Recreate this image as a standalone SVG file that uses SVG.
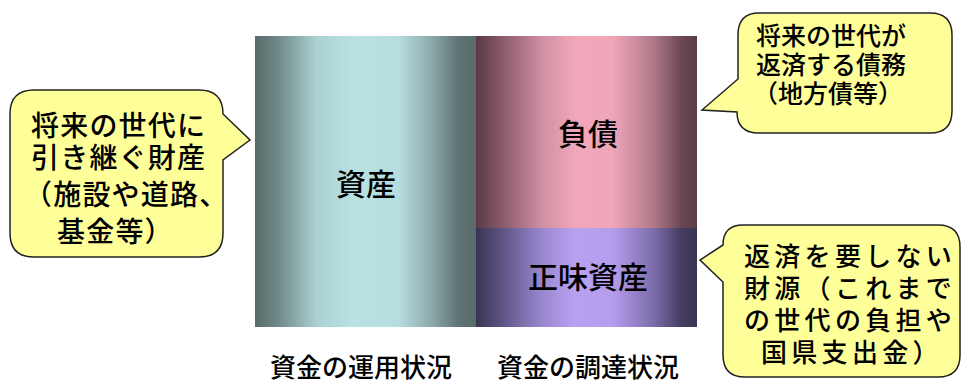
<svg xmlns="http://www.w3.org/2000/svg" width="963" height="385" viewBox="0 0 963 385">
  <style>
    text { font-family: "Liberation Sans", "Noto Sans CJK JP", sans-serif; fill: #000; font-weight: 500; }
    .big { font-size: 30px; text-anchor: middle; }
    .axis { font-size: 26px; text-anchor: middle; }
    .callout { fill: #ffff99; stroke: #222; stroke-width: 1.5; }
    .lc { font-size: 28px; letter-spacing: 1.2px; }
    .tr { font-size: 25px; }
    .br { font-size: 26px; letter-spacing: 4.3px; }
  </style>
  <defs>
    <linearGradient id="gTeal" x1="0" y1="0" x2="1" y2="0">
      <stop offset="0" stop-color="#586b6a"/>
      <stop offset="0.1" stop-color="#6f8787"/>
      <stop offset="0.28" stop-color="#abd2d3"/>
      <stop offset="0.45" stop-color="#bae2e2"/>
      <stop offset="0.65" stop-color="#b6dddf"/>
      <stop offset="0.8" stop-color="#8ca9aa"/>
      <stop offset="0.92" stop-color="#5f7474"/>
      <stop offset="1" stop-color="#5a6b6b"/>
    </linearGradient>
    <linearGradient id="gPink" x1="0" y1="0" x2="1" y2="0">
      <stop offset="0" stop-color="#5a3a46"/>
      <stop offset="0.12" stop-color="#8a5a6a"/>
      <stop offset="0.3" stop-color="#d190a3"/>
      <stop offset="0.45" stop-color="#f1a7b9"/>
      <stop offset="0.62" stop-color="#eea6b8"/>
      <stop offset="0.8" stop-color="#b27a8a"/>
      <stop offset="0.93" stop-color="#6c4654"/>
      <stop offset="1" stop-color="#5c3c48"/>
    </linearGradient>
    <linearGradient id="gPurple" x1="0" y1="0" x2="1" y2="0">
      <stop offset="0" stop-color="#3a3452"/>
      <stop offset="0.12" stop-color="#5e5484"/>
      <stop offset="0.3" stop-color="#9a88cf"/>
      <stop offset="0.45" stop-color="#b9a1f2"/>
      <stop offset="0.62" stop-color="#b59ded"/>
      <stop offset="0.8" stop-color="#7e6eab"/>
      <stop offset="0.93" stop-color="#453d62"/>
      <stop offset="1" stop-color="#3b3452"/>
    </linearGradient>
  </defs>

  <rect width="963" height="385" fill="#ffffff"/>

  <g id="assets">
    <rect x="255" y="36" width="221" height="291" fill="url(#gTeal)"/>
    <text class="big" x="366" y="195">資産</text>
  </g>

  <g id="liabilities">
    <rect x="476" y="36" width="221" height="192" fill="url(#gPink)"/>
    <text class="big" x="588" y="145">負債</text>
  </g>

  <g id="net-assets">
    <rect x="476" y="228" width="221" height="99" fill="url(#gPurple)"/>
    <text class="big" x="588" y="288">正味資産</text>
  </g>

  <g id="label-use">
    <text class="axis" x="361" y="377">資金の運用状況</text>
  </g>
  <g id="label-source">
    <text class="axis" x="588" y="377">資金の調達状況</text>
  </g>

  <g id="callout-assets">
    <path class="callout" d="M 34,90 H 199 Q 223,90 223,114 L 250,140 L 223,160 V 233 Q 223,257 199,257 H 34 Q 10,257 10,233 V 114 Q 10,90 34,90 Z"/>
    <text class="lc" x="31" y="136">将来の世代に</text>
    <text class="lc" x="31" y="168">引き継ぐ財産</text>
    <text class="lc" x="24" y="205">（施設や道路、</text>
    <text class="lc" x="57" y="242">基金等）</text>
  </g>

  <g id="callout-liabilities">
    <path class="callout" d="M 759,13 H 930 Q 952,13 952,35 V 111 Q 952,133 930,133 H 759 Q 737,133 737,112 L 702,110 L 738,79 V 35 Q 738,13 759,13 Z"/>
    <text class="tr" x="756" y="45">将来の世代が</text>
    <text class="tr" x="756" y="74">返済する債務</text>
    <text class="tr" x="753" y="103">（地方債等）</text>
  </g>

  <g id="callout-net-assets">
    <path class="callout" d="M 743,225 H 938 Q 960,225 960,247 V 355 Q 960,377 938,377 H 745 Q 723,377 723,355 V 282 L 700,260 L 723,245 Q 723,225 743,225 Z"/>
    <text class="br" x="744" y="266">返済を要しない</text>
    <text class="br" x="744" y="298">財源（これまで</text>
    <text class="br" x="744" y="330">の世代の負担や</text>
    <text class="br" x="761" y="362">国県支出金）</text>
  </g>
</svg>
